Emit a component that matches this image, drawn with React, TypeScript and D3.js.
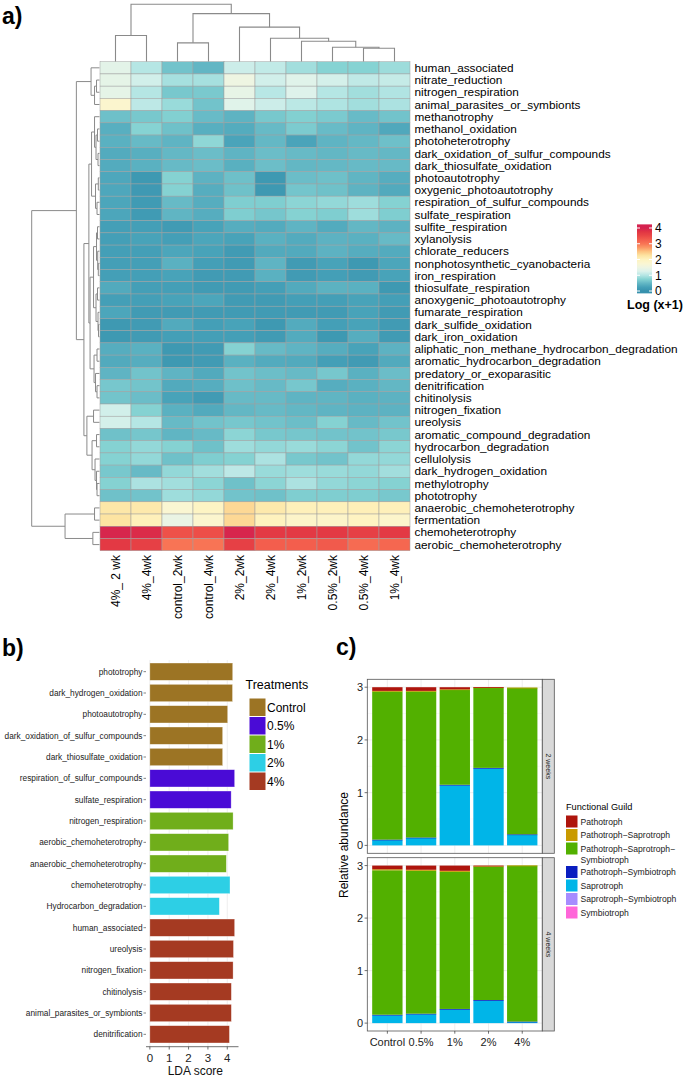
import React from "react";
import * as d3 from "d3";

const FONT = "'Liberation Sans', Arial, Helvetica, sans-serif";

// ---------- a) heatmap ----------
const heatCols = ["4%_ 2 wk", "4%_4wk", "control_2wk", "control_4wk", "2%_2wk", "2%_4wk", "1%_2wk", "0.5%_2wk", "0.5%_4wk", "1%_4wk"];
const heatRows = [
  "human_associated", "nitrate_reduction", "nitrogen_respiration", "animal_parasites_or_symbionts",
  "methanotrophy", "methanol_oxidation", "photoheterotrophy", "dark_oxidation_of_sulfur_compounds",
  "dark_thiosulfate_oxidation", "photoautotrophy", "oxygenic_photoautotrophy", "respiration_of_sulfur_compounds",
  "sulfate_respiration", "sulfite_respiration", "xylanolysis", "chlorate_reducers",
  "nonphotosynthetic_cyanobacteria", "iron_respiration", "thiosulfate_respiration", "anoxygenic_photoautotrophy",
  "fumarate_respiration", "dark_sulfide_oxidation", "dark_iron_oxidation", "aliphatic_non_methane_hydrocarbon_degradation",
  "aromatic_hydrocarbon_degradation", "predatory_or_exoparasitic", "denitrification", "chitinolysis",
  "nitrogen_fixation", "ureolysis", "aromatic_compound_degradation", "hydrocarbon_degradation",
  "cellulolysis", "dark_hydrogen_oxidation", "methylotrophy", "phototrophy",
  "anaerobic_chemoheterotrophy", "fermentation", "chemoheterotrophy", "aerobic_chemoheterotrophy",
];
// log(x+1), one row per function, columns in heatCols order
const heatValues = [
  [1.35, 1.0, 0.6, 0.48, 1.15, 1.08, 0.9, 0.75, 0.75, 0.87],
  [1.38, 1.18, 0.92, 0.92, 1.5, 1.18, 1.3, 1.2, 1.07, 1.1],
  [1.38, 1.0, 0.65, 0.66, 1.4, 1.02, 1.28, 1.0, 0.9, 0.98],
  [1.8, 1.05, 0.85, 0.6, 1.3, 1.15, 1.04, 0.97, 0.9, 0.95],
  [0.57, 0.65, 0.72, 0.53, 0.45, 0.65, 0.72, 0.67, 0.53, 0.6],
  [0.4, 0.75, 0.58, 0.4, 0.37, 0.52, 0.68, 0.53, 0.46, 0.33],
  [0.42, 0.52, 0.46, 0.8, 0.28, 0.5, 0.28, 0.46, 0.5, 0.57],
  [0.36, 0.4, 0.5, 0.55, 0.46, 0.55, 0.52, 0.49, 0.52, 0.5],
  [0.36, 0.42, 0.52, 0.55, 0.41, 0.56, 0.49, 0.5, 0.52, 0.52],
  [0.32, 0.12, 0.74, 0.44, 0.57, 0.12, 0.55, 0.57, 0.47, 0.38],
  [0.32, 0.13, 0.74, 0.38, 0.58, 0.12, 0.62, 0.58, 0.45, 0.35],
  [0.3, 0.15, 0.52, 0.38, 0.7, 0.7, 0.78, 0.82, 0.88, 0.74],
  [0.3, 0.15, 0.47, 0.38, 0.7, 0.63, 0.74, 0.7, 0.88, 0.7],
  [0.22, 0.22, 0.16, 0.27, 0.38, 0.36, 0.46, 0.36, 0.49, 0.44],
  [0.22, 0.27, 0.22, 0.3, 0.27, 0.42, 0.36, 0.44, 0.42, 0.52],
  [0.22, 0.22, 0.3, 0.27, 0.16, 0.35, 0.35, 0.44, 0.38, 0.36],
  [0.22, 0.22, 0.42, 0.22, 0.16, 0.46, 0.16, 0.27, 0.12, 0.3],
  [0.22, 0.22, 0.27, 0.16, 0.16, 0.42, 0.16, 0.22, 0.16, 0.27],
  [0.35, 0.22, 0.22, 0.16, 0.16, 0.22, 0.35, 0.43, 0.42, 0.12],
  [0.22, 0.22, 0.27, 0.3, 0.16, 0.16, 0.22, 0.22, 0.27, 0.22],
  [0.3, 0.16, 0.16, 0.16, 0.16, 0.16, 0.16, 0.16, 0.27, 0.16],
  [0.12, 0.16, 0.35, 0.22, 0.27, 0.12, 0.36, 0.22, 0.27, 0.16],
  [0.12, 0.16, 0.22, 0.22, 0.22, 0.16, 0.36, 0.12, 0.38, 0.16],
  [0.38, 0.42, 0.12, 0.16, 0.74, 0.52, 0.46, 0.38, 0.27, 0.44],
  [0.35, 0.38, 0.12, 0.16, 0.42, 0.36, 0.35, 0.22, 0.16, 0.35],
  [0.46, 0.6, 0.46, 0.35, 0.6, 0.56, 0.52, 0.64, 0.42, 0.55],
  [0.64, 0.61, 0.35, 0.38, 0.57, 0.52, 0.64, 0.38, 0.42, 0.49],
  [0.61, 0.55, 0.27, 0.16, 0.52, 0.52, 0.46, 0.47, 0.42, 0.44],
  [1.18, 0.74, 0.42, 0.35, 0.49, 0.52, 0.49, 0.46, 0.44, 0.44],
  [1.2, 1.0, 0.52, 0.6, 0.64, 0.6, 0.56, 0.74, 0.52, 0.6],
  [0.58, 0.63, 0.47, 0.52, 0.78, 0.65, 0.63, 0.6, 0.6, 0.65],
  [0.74, 0.82, 0.74, 0.58, 0.88, 0.82, 0.85, 0.78, 0.6, 0.78],
  [0.74, 0.82, 0.58, 0.7, 0.74, 0.95, 0.65, 0.6, 0.82, 0.82],
  [0.65, 0.52, 0.82, 0.9, 1.05, 0.85, 0.88, 0.85, 0.82, 0.9],
  [0.74, 0.95, 0.9, 0.78, 0.58, 0.78, 0.95, 0.82, 0.78, 0.74],
  [0.58, 0.6, 0.88, 0.82, 0.6, 0.58, 0.7, 0.7, 0.7, 0.65],
  [2.2, 2.17, 1.75, 1.95, 2.35, 2.17, 2.05, 2.05, 2.07, 2.05],
  [2.25, 2.05, 1.45, 1.8, 2.35, 2.02, 1.88, 1.88, 1.97, 1.85],
  [3.95, 3.88, 3.4, 3.43, 3.95, 3.7, 3.7, 3.7, 3.6, 3.7],
  [3.7, 3.6, 3.0, 3.0, 3.6, 3.25, 3.25, 3.3, 3.1, 3.15],
];
const colorStops = [0, 0.25, 0.5, 0.75, 1, 1.25, 1.5, 1.75, 2, 2.25, 2.5, 2.75, 3, 3.25, 3.5, 3.75, 4];
const colorHexes = [
  "#3791ad", "#46a1b8", "#64b8c5", "#86d3d3", "#b5e6e4", "#dcf2ec", "#eef5e2", "#faf6d2", "#fef3c0",
  "#fde4a2", "#fdc582", "#fb9966", "#f87455", "#f35e4d", "#ea4846", "#e13543", "#d5224f",
];
const legendTicks = [0, 1, 2, 3, 4];

// dendrograms: [merge height, left, right]; numbers are leaf indices
const colTree = [5.7, [2.6, 0, 1], [4.77, [1.87, 2, 3], [3.43, 4, [2.33, 5, [2.03, 6, [1.43, 7, [1.33, 8, 9]]]]]]];
const rowTree = [6.83,
  [2.33,
    [0.85, 0, [0.5, [0.3, 1, 2], 3]],
    [1.57,
      [1.07,
        [0.8, [0.5, 4, [0.35, [0.2, 5, 6], [0.15, 7, 8]]], [0.4, [0.12, 9, 10], [0.25, 11, 12]]],
        [0.95,
          [0.6, [0.3, [0.2, 13, 14], [0.18, 15, [0.12, 16, 17]]], [0.35, [0.2, 18, 19], [0.15, 20, [0.1, 21, 22]]]],
          [0.55, [0.25, 23, 24], [0.4, 25, [0.25, 26, 27]]]]],
      [1.27, [0.6, 28, 29], [0.75, [0.3, 30, 31], [0.45, 32, [0.3, 33, [0.25, 34, 35]]]]]]],
  [3.47, [0.5, 36, 37], [0.67, 38, 39]]];

// ---------- b) LDA ----------
const ldaFeatures = [
  "phototrophy", "dark_hydrogen_oxidation", "photoautotrophy", "dark_oxidation_of_sulfur_compounds",
  "dark_thiosulfate_oxidation", "respiration_of_sulfur_compounds", "sulfate_respiration", "nitrogen_respiration",
  "aerobic_chemoheterotrophy", "anaerobic_chemoheterotrophy", "chemoheterotrophy", "Hydrocarbon_degradation",
  "human_associated", "ureolysis", "nitrogen_fixation", "chitinolysis", "animal_parasites_or_symbionts", "denitrification",
];
const ldaScores = [4.28, 4.27, 4.02, 3.76, 3.76, 4.38, 4.2, 4.3, 4.07, 3.95, 4.14, 3.59, 4.38, 4.32, 4.3, 4.21, 4.21, 4.11];
const ldaGroups = ["Control", "Control", "Control", "Control", "Control", "0.5%", "0.5%", "1%", "1%", "1%", "2%", "2%", "4%", "4%", "4%", "4%", "4%", "4%"];
const treatments = ["Control", "0.5%", "1%", "2%", "4%"];
const treatmentColors = ["#9c7424", "#4a0bd6", "#70ae1b", "#2dcfe5", "#a53a22"];
const ldaTicks = [0, 1, 2, 3, 4];

// ---------- c) FUNGuild ----------
const guilds = [
  "Pathotroph", "Pathotroph-Saprotroph", "Pathotroph-Saprotroph-Symbiotroph", "Pathotroph-Symbiotroph",
  "Saprotroph", "Saprotroph-Symbiotroph", "Symbiotroph",
];
const guildLabels = [
  ["Pathotroph"], ["Pathotroph\u2212Saprotroph"], ["Pathotroph\u2212Saprotroph\u2212", "Symbiotroph"],
  ["Pathotroph\u2212Symbiotroph"], ["Saprotroph"], ["Saprotroph\u2212Symbiotroph"], ["Symbiotroph"],
];
const guildColors = ["#ae150d", "#c99a00", "#52b000", "#0a1ec0", "#00b5e8", "#a68cff", "#ff66d9"];
const guildTreat = ["Control", "0.5%", "1%", "2%", "4%"];
const weeks = ["2 weeks", "4 weeks"];
const week2 = {
  "Pathotroph": [0.07, 0.07, 0.04, 0.002, 0],
  "Pathotroph-Saprotroph": [0.01, 0.01, 0.01, 0.008, 0.002],
  "Pathotroph-Saprotroph-Symbiotroph": [2.81, 2.77, 1.8, 1.52, 2.78],
  "Pathotroph-Symbiotroph": [0.01, 0.01, 0.01, 0.01, 0.01],
  "Saprotroph": [0.1, 0.14, 1.14, 1.46, 0.2],
  "Saprotroph-Symbiotroph": [0, 0, 0, 0, 0],
  "Symbiotroph": [0, 0, 0, 0, 0],
};
const week4 = {
  "Pathotroph": [0.07, 0.08, 0.1, 0.005, 0],
  "Pathotroph-Saprotroph": [0.02, 0.02, 0.02, 0.015, 0.002],
  "Pathotroph-Saprotroph-Symbiotroph": [2.75, 2.72, 2.61, 2.54, 2.97],
  "Pathotroph-Symbiotroph": [0.01, 0.01, 0.01, 0.01, 0.01],
  "Saprotroph": [0.15, 0.17, 0.26, 0.43, 0.02],
  "Saprotroph-Symbiotroph": [0, 0, 0, 0, 0],
  "Symbiotroph": [0, 0, 0, 0, 0],
};
const abundTicks = [0, 1, 2, 3];

function walkTree(node, leafPos, segs) {
  if (typeof node === "number") return { p: leafPos(node), h: 0 };
  const [h, l, r] = node;
  const a = walkTree(l, leafPos, segs);
  const b = walkTree(r, leafPos, segs);
  segs.push({ a, b, h });
  return { p: (a.p + b.p) / 2, h };
}

function HeatmapPanel() {
  const x = d3.scaleBand().domain(heatCols).range([100, 410]);
  const y = d3.scaleBand().domain(heatRows).range([61.7, 550.7]);
  const color = d3.scaleLinear().domain(colorStops).range(colorHexes).clamp(true);

  const colSegs = [];
  walkTree(colTree, (i) => x(heatCols[i]) + x.bandwidth() / 2, colSegs);
  const colH = d3.scaleLinear().domain([0, 5.7]).range([61.7, 4.3]);

  const rowSegs = [];
  walkTree(rowTree, (i) => y(heatRows[i]) + y.bandwidth() / 2, rowSegs);
  const rowH = d3.scaleLinear().domain([0, 6.83]).range([99.5, 31.7]);

  const ly = d3.scaleLinear().domain([0, 4]).range([291, 228]);
  const gradVals = d3.range(-0.15, 4.25, 0.05);
  const g0 = -0.15, g1 = 4.23;

  return (
    <g>
      <text x={2} y={24} fontSize={23} fontWeight="bold">a)</text>
      {colSegs.map((s, i) => (
        <path key={"c" + i} d={`M${s.a.p},${colH(s.a.h)}V${colH(s.h)}H${s.b.p}V${colH(s.b.h)}`}
          fill="none" stroke="#8a8a8a" strokeWidth={1.1} />
      ))}
      {rowSegs.map((s, i) => (
        <path key={"r" + i} d={`M${rowH(s.a.h)},${s.a.p}H${rowH(s.h)}V${s.b.p}H${rowH(s.b.h)}`}
          fill="none" stroke="#8a8a8a" strokeWidth={1} />
      ))}
      {heatRows.map((r, ri) => heatCols.map((c, ci) => (
        <rect key={r + c} x={x(c)} y={y(r)} width={x.bandwidth()} height={y.bandwidth()}
          fill={color(heatValues[ri][ci])} stroke="#9f9f9f" strokeWidth={0.5} />
      )))}
      {heatRows.map((r) => (
        <text key={"rl" + r} x={414.5} y={y(r) + y.bandwidth() / 2} dy="0.35em" fontSize={11.8}>{r}</text>
      ))}
      {heatCols.map((c) => (
        <text key={"cl" + c} fontSize={12} textAnchor="end"
          transform={`translate(${x(c) + x.bandwidth() / 2 + 4.3},${555}) rotate(-90)`}>{c}</text>
      ))}
      <defs>
        <linearGradient id="heatGrad" x1="0" y1="1" x2="0" y2="0">
          {gradVals.map((v) => (
            <stop key={v} offset={(v - g0) / (g1 - g0)} stopColor={color(v)} />
          ))}
        </linearGradient>
      </defs>
      <rect x={637} y={ly(g1)} width={15} height={ly(g0) - ly(g1)} fill="url(#heatGrad)" />
      {legendTicks.map((t) => (
        <g key={"lt" + t}>
          <line x1={637} x2={640} y1={ly(t)} y2={ly(t)} stroke="#fff" strokeWidth={1} />
          <line x1={649} x2={652} y1={ly(t)} y2={ly(t)} stroke="#fff" strokeWidth={1} />
          <text x={655} y={ly(t)} dy="0.36em" fontSize={12}>{t}</text>
        </g>
      ))}
      <text x={627} y={309} fontSize={12.5} fontWeight="bold">Log (x+1)</text>
    </g>
  );
}

function LdaPanel() {
  const x = d3.scaleLinear().domain([-0.2, 4.58]).range([146, 238.5]);
  const y = d3.scaleBand().domain(ldaFeatures).range([661, 1045]).paddingInner(0.19).paddingOuter(0.095);
  const col = d3.scaleOrdinal().domain(treatments).range(treatmentColors);
  const keyY = d3.scaleBand().domain(treatments).range([698, 790.5]);

  return (
    <g>
      <text x={2} y={656} fontSize={23} fontWeight="bold">b)</text>
      {ldaTicks.map((t) => (
        <line key={"g" + t} x1={x(t)} x2={x(t)} y1={660} y2={1046.5} stroke="#ebebeb" strokeWidth={0.8} />
      ))}
      {ldaFeatures.map((f, i) => (
        <g key={f}>
          <rect x={x(0)} y={y(f)} width={x(ldaScores[i]) - x(0)} height={y.bandwidth()}
            fill={col(ldaGroups[i])} stroke="#ffffff" strokeOpacity={0.5} strokeWidth={0.6} />
          <line x1={143.5} x2={146} y1={y(f) + y.bandwidth() / 2} y2={y(f) + y.bandwidth() / 2} stroke="#333" strokeWidth={0.6} />
          <text x={142.5} y={y(f) + y.bandwidth() / 2} dy="0.35em" fontSize={8.3} textAnchor="end" fill="#222">{f}</text>
        </g>
      ))}
      <line x1={146} x2={238.5} y1={1046.7} y2={1046.7} stroke="#333" strokeWidth={0.7} />
      {ldaTicks.map((t) => (
        <g key={"t" + t}>
          <line x1={x(t)} x2={x(t)} y1={1046.7} y2={1049.5} stroke="#333" strokeWidth={0.7} />
          <text x={x(t)} y={1062} fontSize={11.5} textAnchor="middle" fill="#222">{t}</text>
        </g>
      ))}
      <text x={x(2.35)} y={1075} fontSize={12} textAnchor="middle" fill="#111">LDA score</text>
      <text x={245.5} y={689} fontSize={12.5}>Treatments</text>
      {treatments.map((t) => (
        <g key={"k" + t}>
          <rect x={249.5} y={keyY(t) + 0.5} width={16} height={keyY.bandwidth() - 1} fill={col(t)} />
          <text x={267} y={keyY(t) + keyY.bandwidth() / 2} dy="0.36em" fontSize={12}>{t}</text>
        </g>
      ))}
    </g>
  );
}

function GuildPanel() {
  const x = d3.scaleBand().domain(guildTreat).range([367.3, 542.3]).paddingInner(0.1).paddingOuter(0.145);
  const panels = [
    { week: weeks[0], data: week2, top: 679.3, bottom: 853.3 },
    { week: weeks[1], data: week4, top: 857.7, bottom: 1031 },
  ];
  const stackKeys = guilds.slice().reverse();
  const col = d3.scaleOrdinal().domain(guilds).range(guildColors);

  const keyTops = [];
  let ky = 815.5;
  guilds.forEach((g, i) => {
    keyTops.push(ky);
    ky += 13.5 + (guildLabels[i].length > 1 ? 10 : 0);
  });

  return (
    <g>
      <text x={336} y={655} fontSize={23} fontWeight="bold">c)</text>
      {panels.map((p) => {
        const y = d3.scaleLinear().domain([-0.15, 3.15]).range([p.bottom, p.top]);
        const rows = guildTreat.map((t, ti) => {
          const o = { treat: t };
          guilds.forEach((g) => { o[g] = p.data[g][ti]; });
          return o;
        });
        const series = d3.stack().keys(stackKeys)(rows);
        return (
          <g key={p.week}>
            <rect x={367.3} y={p.top} width={175} height={p.bottom - p.top} fill="#fff" />
            {[0.5, 1.5, 2.5].map((t) => (
              <line key={"m" + t} x1={367.3} x2={542.3} y1={y(t)} y2={y(t)} stroke="#f3f3f3" strokeWidth={0.5} />
            ))}
            {abundTicks.map((t) => (
              <line key={"h" + t} x1={367.3} x2={542.3} y1={y(t)} y2={y(t)} stroke="#e6e6e6" strokeWidth={0.7} />
            ))}
            {guildTreat.map((t) => (
              <line key={"v" + t} x1={x(t) + x.bandwidth() / 2} x2={x(t) + x.bandwidth() / 2} y1={p.top} y2={p.bottom}
                stroke="#e6e6e6" strokeWidth={0.7} />
            ))}
            {series.map((s) => s.map((d, i) => (
              d[1] - d[0] > 0 ? (
                <rect key={s.key + i} x={x(guildTreat[i])} y={y(d[1])} width={x.bandwidth()}
                  height={Math.max(y(d[0]) - y(d[1]), 0.8)} fill={col(s.key)} />
              ) : null
            )))}
            <rect x={367.3} y={p.top} width={175} height={p.bottom - p.top} fill="none" stroke="#555" strokeWidth={0.8} />
            <rect x={542.3} y={p.top} width={12} height={p.bottom - p.top} fill="#d9d9d9" stroke="#555" strokeWidth={0.8} />
            <text fontSize={7} fill="#1a1a1a" textAnchor="middle"
              transform={`translate(${546},${(p.top + p.bottom) / 2}) rotate(90)`}>{p.week}</text>
            {abundTicks.map((t) => (
              <g key={"yt" + t}>
                <line x1={364.6} x2={367.3} y1={y(t)} y2={y(t)} stroke="#333" strokeWidth={0.7} />
                <text x={363} y={y(t)} dy="0.36em" fontSize={11} textAnchor="end" fill="#222">{t}</text>
              </g>
            ))}
          </g>
        );
      })}
      {guildTreat.map((t) => (
        <g key={"xt" + t}>
          <line x1={x(t) + x.bandwidth() / 2} x2={x(t) + x.bandwidth() / 2} y1={1031} y2={1033.7} stroke="#333" strokeWidth={0.7} />
          <text x={x(t) + x.bandwidth() / 2} y={1045.5} fontSize={11} textAnchor="middle" fill="#222">{t}</text>
        </g>
      ))}
      <text fontSize={12} textAnchor="middle" transform={`translate(${348},${845}) rotate(-90)`}>Relative abundance</text>
      <text x={566} y={810} fontSize={9.2}>Functional Guild</text>
      {guilds.map((g, i) => (
        <g key={"gk" + g}>
          <rect x={566} y={keyTops[i]} width={11.5} height={12} fill={col(g)} />
          {guildLabels[i].map((l, li) => (
            <text key={l} x={580.5} y={keyTops[i] + 6 + li * 11} dy="0.35em" fontSize={8.6} fill="#222">{l}</text>
          ))}
        </g>
      ))}
    </g>
  );
}

export default function App() {
  return (
    <div style={{ position: "absolute", left: 0, top: 0 }}>
      <svg width={685} height={1078} fontFamily={FONT} style={{ display: "block", background: "#fff" }}>
        <rect width={685} height={1078} fill="#fff" />
        <HeatmapPanel />
        <LdaPanel />
        <GuildPanel />
      </svg>
    </div>
  );
}
